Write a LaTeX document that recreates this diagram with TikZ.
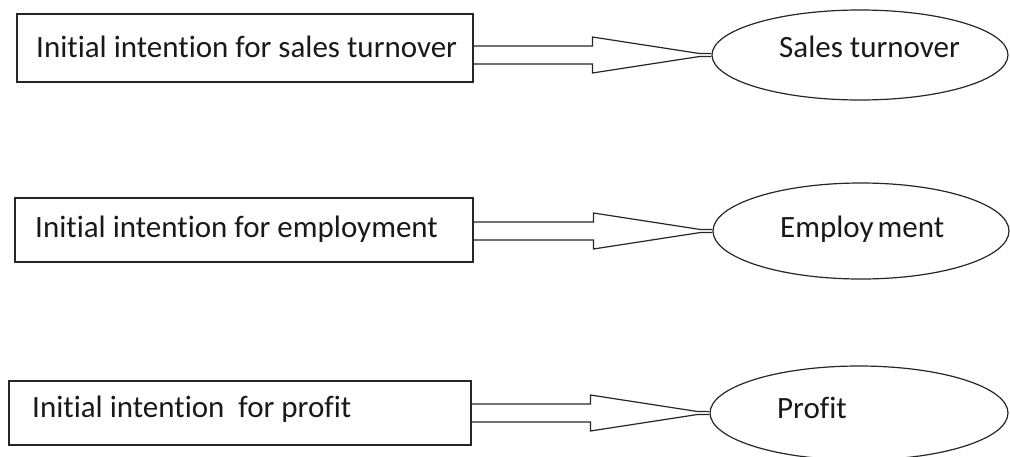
\documentclass[tikz,border=0pt]{standalone}
\usepackage{fontspec}
\setmainfont[Ligatures=NoCommon]{Carlito}
\usetikzlibrary{shapes.geometric,calc}
\begin{document}
\begin{tikzpicture}[x=1pt,y=-1pt,
  box/.style={draw=black!85, line width=1.2pt, inner sep=0pt},
  oval/.style={ellipse, draw=black!85, line width=1.2pt, inner sep=0pt},
  lbl/.style={font=\fontsize{31}{36}\selectfont, inner sep=0pt, text=black!90, anchor=base west},
  hollow/.style={draw=black!85, line width=1.2pt, line join=miter},
]
\useasboundingbox (0,0) rectangle (1010,456);

% intention boxes
\node[box, minimum width=456pt, minimum height=68pt] (b1) at (245,48) {};
\node[box, minimum width=458pt, minimum height=64pt] (b2) at (244,230) {};
\node[box, minimum width=462pt, minimum height=64pt] (b3) at (240,413) {};
\node[lbl] (l1) at (36,57) {Initial intention for sales turnover};
\node[lbl] (l2) at (35,237) {Initial intention for employment};
\node[lbl] (l3) at (32,417) {Initial intention\ \ for profit};

% outcome ellipses
\node[oval, minimum width=296pt, minimum height=90pt] (e1) at (860,55) {};
\node[oval, minimum width=296pt, minimum height=96pt] (e2) at (861,231) {};
\node[oval, minimum width=298pt, minimum height=94pt] (e3) at (859,413) {};
\node[lbl] (m1) at (779,57) {Sales turnover};
\node[lbl] (m2) at (780,237) {Employ\kern4pt ment};
\node[lbl] (m3) at (777,418) {Profit};

% hollow double-line arrows from each box to its ellipse
\foreach \b/\e in {b1/e1,b2/e2,b3/e3} {
  \coordinate (\e-tip) at ($(\e.west)+(-12,0)$);
  \coordinate (\e-up) at ($(\e-tip)+(0,-9)$);
  \coordinate (\e-dn) at ($(\e-tip)+(0,9)$);
  \draw[hollow] (\b.east |- \e-up) -- ($(\e-up)+(-107,0)$) -- ++(0,-9) -- ($(\e-tip)+(0,-1.5)$)
    -- ($(\e.west)+(0,-1.5)$);
  \draw[hollow] (\b.east |- \e-dn) -- ($(\e-dn)+(-107,0)$) -- ++(0,9) -- ($(\e-tip)+(0,1.5)$)
    -- ($(\e.west)+(0,1.5)$);
}
\end{tikzpicture}
\end{document}
